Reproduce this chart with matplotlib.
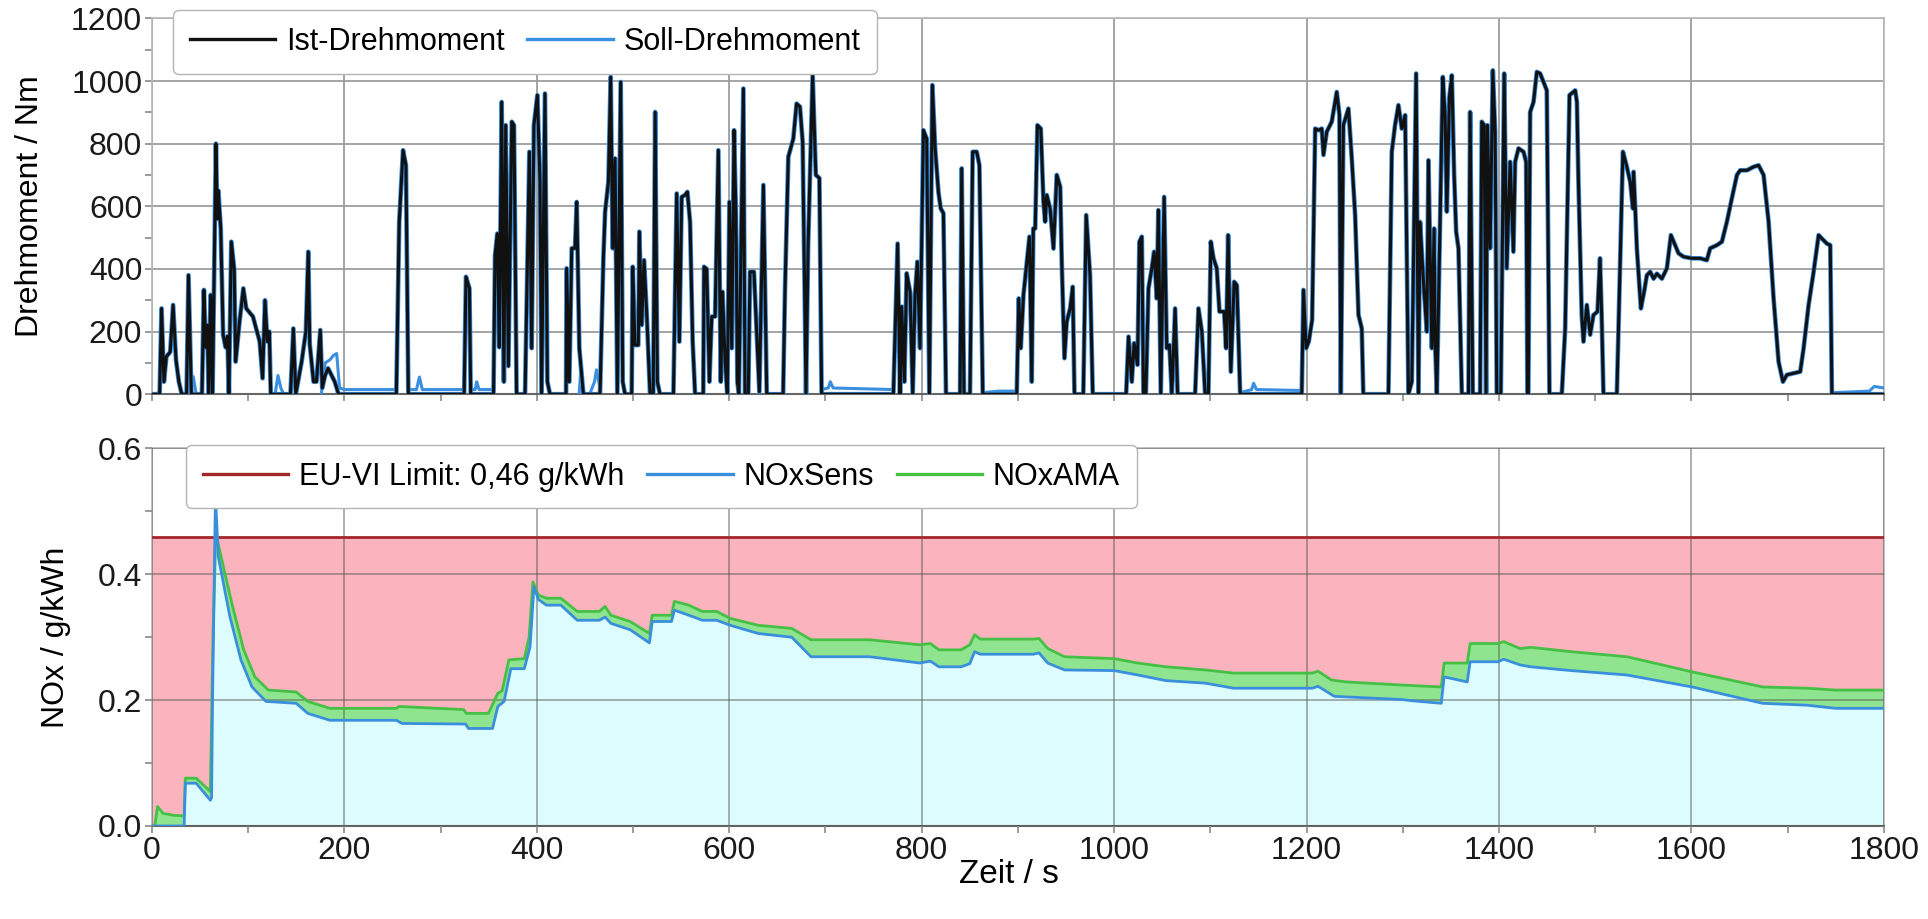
import numpy as np
import matplotlib
matplotlib.use("Agg")
import matplotlib.pyplot as plt
from matplotlib.ticker import MultipleLocator, FormatStrFormatter
from matplotlib.lines import Line2D
from matplotlib import font_manager

plt.rcParams['font.family'] = ['Liberation Sans', 'DejaVu Sans']

# ---------------- data: torque (Nm) ----------------
ist_t = [0, 8, 10, 12.5, 15, 19, 22, 25, 28, 31, 36, 38, 41,
         52, 54, 56, 57.5, 59, 61, 63, 66.5, 68, 69, 71.5, 74, 76.5, 78.5, 80,
         82.5, 85.5, 87, 91, 95, 98, 105, 112, 115, 117.5, 120, 122, 123.5,
         144, 147, 149.5, 155.6, 160, 162.5, 164, 168, 171, 175, 177, 180, 183, 186, 190, 194,
         254, 257, 261, 264, 266.5,
         324.5, 326.4, 330, 331.3,
         355, 356.6, 359, 361, 363.5, 365.8, 367.7, 370.5, 374, 376.3, 379,
         387.8, 392.3, 394.7, 397, 400.6, 403.3, 405, 408.5, 411, 413.7,
         430.4, 431, 433.8, 436.3, 439.7, 441.5, 444.2, 448.4,
         465.7, 469.2, 471, 474.4, 476.8, 478.9, 481.3, 483.7, 487.2, 489.3, 491.7,
         498.6, 499.7, 502, 505.5, 506.6, 509, 511.5, 514.3, 517.7,
         521, 523, 525.3, 528,
         542, 545.4, 548.2, 550.6, 554, 556.5, 559.3, 562, 564.5,
         573, 573.8, 576.6, 579.4, 581.8, 585.3, 588.7, 591.2, 593, 595.7, 598,
         600.2, 602.6, 605, 607, 608.5, 610, 614.7, 616.4, 619.8, 621.6, 625.7, 628.5, 631.3, 635.5, 639,
         656, 658, 661.4, 666.6, 670, 673.5, 676.3, 679.8, 682, 686.7, 690, 693.7, 696,
         770.6, 775, 777.5, 779.2, 782, 784.4, 788, 790.7, 793.1, 795.5, 798.3, 801.8, 805.2, 808,
         811.1, 814, 817.4, 819.8, 822.6, 825.3,
         839.9, 841.6, 844, 850.2, 853, 857.2, 860, 863.5,
         898.8, 900.9, 903, 905.8, 912, 914.4, 916, 918, 920.3, 923.8, 926.6, 928.3, 930, 933.5,
         937, 940.4, 944, 945.6, 948.4, 950.8, 954.3, 957, 958.8,
         968, 971, 975, 977.8,
         1012.5, 1015, 1018.4, 1020.8, 1024.3, 1026.3, 1028.8, 1030.5, 1033, 1035.7, 1039.2, 1041.6,
         1044.3, 1046, 1048.5, 1052, 1054.7, 1057.5, 1060, 1063.4, 1066,
         1084.2, 1087.7, 1091.2, 1094.6, 1098, 1100.5, 1103.3, 1106.7, 1109.5, 1114.3, 1116.4, 1118.5,
         1121.3, 1124.8, 1127.6, 1131,
         1195, 1196.8, 1199.6, 1202.3, 1205.8, 1209, 1212.4, 1215.8, 1217.6, 1221, 1226.2, 1231.4,
         1234.2, 1235.6, 1238.3, 1243.5, 1247, 1250.5, 1254, 1257.4, 1259,
         1285.1, 1288.6, 1292, 1295.5, 1299, 1302.5, 1305.9, 1309.4, 1313.9, 1316.3, 1318, 1321.5,
         1325, 1326.7, 1330.2, 1332.6, 1333.6, 1335.4, 1341.6, 1344, 1345.8, 1348.5, 1351, 1353.4,
         1355.5, 1357.9, 1361.4,
         1368.3, 1370, 1372.8, 1380.4, 1382.1, 1384.6, 1386.6, 1388, 1390.8, 1393.6, 1396, 1397.7,
         1401.9, 1405.4, 1408.1, 1411.6, 1415, 1416.8, 1420.3, 1425.5, 1428.2, 1429.6,
         1430.5, 1432.4, 1435.9, 1439.3, 1442.8, 1446.3, 1449.7, 1452.5,
         1465.3, 1468.8, 1473.3, 1479.2, 1481, 1482.6, 1486, 1487.8, 1491.3, 1494.8, 1498.2, 1502.4,
         1505, 1506.7, 1508.6,
         1522.5, 1528.8, 1532.5, 1536.4, 1539.2, 1539.9, 1541.6, 1543.3, 1547.5, 1550.8, 1553.7, 1557.2,
         1560.7, 1564.1, 1569.3, 1574.5, 1578.7, 1583.1, 1586.6, 1591.8, 1600.5, 1609.1, 1616, 1619.5,
         1626.5, 1631.7, 1636.9, 1642, 1647.3, 1650.7, 1657.7, 1664.6, 1669.8, 1675, 1680.2, 1685.4,
         1690.6, 1695.1, 1699.2, 1706.2, 1713.1, 1716.6, 1721.8, 1727, 1732.2, 1735.6, 1740.8, 1744.3,
         1746, 1800]
ist_nm = [0, 0, 274, 40, 120, 135, 285, 110, 40, 0, 0, 380, 0,
          0, 333, 150, 220, 0, 317, 0, 800, 560, 650, 530, 190, 150, 185, 0,
          487, 400, 104, 230, 338, 274, 248, 168, 51, 300, 168, 200, 0,
          0, 210, 0, 104, 200, 455, 160, 40, 40, 205, 20, 60, 83, 65, 40, 0,
          0, 550, 779, 731, 0,
          0, 375, 338, 0,
          0, 444, 513, 150, 933, 40, 859, 90, 870, 859, 0,
          0, 774, 147, 859, 955, 680, 0, 960, 40, 0,
          0, 402, 40, 466, 466, 614, 147, 0,
          0, 434, 583, 678, 1013, 466, 753, 0, 997, 40, 0,
          0, 407, 157, 157, 519, 221, 428, 253, 0,
          0, 901, 40, 0,
          0, 641, 168, 630, 636, 646, 550, 168, 0,
          0, 407, 400, 40, 248, 248, 779, 40, 327, 104, 0,
          614, 147, 843, 570, 40, 0, 976, 0, 0, 391, 391, 200, 8, 668, 0,
          0, 338, 758, 816, 928, 918, 806, 0, 477, 1018, 700, 690, 0,
          0, 481, 0, 280, 40, 386, 327, 0, 317, 423, 147, 843, 816, 0,
          987, 785, 646, 593, 578, 0,
          0, 721, 0, 0, 774, 774, 731, 0,
          0, 306, 147, 317, 503, 40, 529, 529, 859, 848, 614, 551, 636, 593,
          465, 700, 662, 422, 115, 232, 274, 343, 0,
          0, 572, 380, 0,
          0, 184, 40, 163, 94, 487, 503, 0, 0, 338, 402, 455,
          306, 588, 0, 630, 147, 157, 0, 274, 0,
          0, 274, 200, 0, 0, 487, 434, 402, 264, 264, 147, 508,
          72, 359, 348, 0,
          0, 333, 147, 168, 237, 848, 843, 848, 764, 838, 870, 965,
          891, 0, 859, 912, 753, 572, 253, 210, 0,
          0, 774, 859, 923, 848, 891, 0, 40, 1024, 0, 550, 359,
          200, 747, 147, 529, 168, 0, 1013, 891, 583, 950, 1018, 700,
          519, 466, 0,
          0, 901, 0, 0, 870, 859, 0, 859, 466, 1034, 838, 0,
          0, 1024, 402, 742, 455, 742, 785, 774, 742, 0,
          0, 901, 933, 1029, 1024, 997, 970, 0,
          0, 210, 955, 970, 933, 678, 253, 168, 285, 190, 253, 264,
          434, 253, 0,
          0, 774, 731, 678, 593, 710, 593, 466, 274, 327, 380, 391,
          369, 385, 369, 402, 508, 476, 450, 439, 434, 434, 428, 466,
          476, 487, 551, 625, 700, 715, 715, 726, 731, 700, 551, 306,
          104, 40, 62, 67, 72, 147, 285, 391, 508, 497, 481, 476,
          0, 0]

# Soll-Drehmoment where it differs from the actual torque (idle demand);
# NaN separates the segments
soll_t = [0, 8, np.nan,
          40, 43, 46, np.nan,
          128, 131, 134, 137, np.nan,
          176, 180, 185, 189, 192, 195, 200, 254, np.nan,
          266.5, 275, 278, 281, 324.5, np.nan,
          331.3, 336, 337.5, 340, 355, np.nan,
          444, 446, 448.4, 455, 460, 462, 465.7, np.nan,
          696, 703, 705, 708, 770.6, np.nan,
          863.5, 880, 898.8, np.nan,
          1131, 1143, 1145, 1148, 1195, np.nan,
          1746, 1785, 1790, 1800]
soll_nm = [0, 5, np.nan,
           0, 56, 0, np.nan,
           0, 60, 20, 0, np.nan,
           0, 100, 110, 125, 130, 20, 15, 15, np.nan,
           15, 15, 55, 15, 15, np.nan,
           15, 15, 40, 15, 15, np.nan,
           0, 90, 0, 0, 40, 78, 20, np.nan,
           15, 20, 40, 20, 15, np.nan,
           5, 10, 10, np.nan,
           5, 15, 35, 15, 12, np.nan,
           5, 10, 25, 20]

# ---------------- data: NOx (g/kWh) ----------------
limit_nox = 0.46

ama_t = [0, 3, 5.8, 11.6, 23, 33.5, 34.7, 46, 60.7, 63.6, 66.5, 75, 83.8, 95.4, 107, 121, 150, 162,
         185, 254, 257, 324, 326.6, 349.7, 359.5, 364, 371, 387, 392, 396, 401.7, 410, 425, 442, 465,
         471, 477, 497, 517, 520, 540, 543, 558, 572, 587, 601, 630, 665, 685, 746, 798, 809, 818,
         841, 850, 855, 861, 916, 922, 931, 948.5, 1000, 1024.6, 1054, 1095, 1124, 1206, 1212, 1226,
         1241, 1299, 1340, 1343, 1367, 1370, 1399, 1405, 1422, 1433, 1475, 1533, 1600.6, 1674, 1720,
         1750, 1800]
ama_val = [0, 0, 0.031, 0.020, 0.017, 0.016, 0.076, 0.076, 0.055, 0.31, 0.465, 0.407, 0.349, 0.28,
           0.237, 0.216, 0.213, 0.198, 0.187, 0.187, 0.19, 0.185, 0.179, 0.179, 0.211, 0.215, 0.264,
           0.266, 0.30, 0.388, 0.367, 0.362, 0.362, 0.341, 0.341, 0.349, 0.335, 0.325, 0.306, 0.335,
           0.335, 0.357, 0.351, 0.341, 0.341, 0.33, 0.319, 0.314, 0.296, 0.296, 0.288, 0.29, 0.28,
           0.28, 0.288, 0.304, 0.297, 0.297, 0.298, 0.282, 0.269, 0.266, 0.259, 0.253, 0.248, 0.243,
           0.243, 0.246, 0.232, 0.229, 0.224, 0.221, 0.259, 0.259, 0.29, 0.29, 0.293, 0.282, 0.284,
           0.277, 0.269, 0.245, 0.221, 0.219, 0.216, 0.216]

sens_t = [0, 33.5, 34.7, 46, 60.7, 62, 63, 66, 69, 81, 92.5, 104, 118.5, 150, 162, 185, 254, 260,
          326, 329, 354, 359.5, 366, 373, 387, 393, 397, 401.7, 410, 425, 442, 465, 471, 477, 497,
          517, 520, 540, 543, 558, 572, 587, 601, 630, 665, 685, 746, 798, 809, 818, 841, 850, 855,
          861, 916, 922, 931, 948.5, 1000, 1024.6, 1054, 1095, 1124, 1206, 1212, 1229, 1299, 1310,
          1340, 1343, 1367, 1370, 1399, 1405, 1422, 1433, 1475, 1533, 1600.6, 1674, 1720, 1750, 1800]
sens_val = [0, 0, 0.068, 0.068, 0.041, 0.045, 0.2, 0.526, 0.428, 0.333, 0.264, 0.221, 0.198, 0.195,
            0.179, 0.168, 0.168, 0.163, 0.162, 0.155, 0.155, 0.19, 0.198, 0.25, 0.25, 0.285, 0.38,
            0.36, 0.351, 0.351, 0.327, 0.327, 0.332, 0.322, 0.312, 0.291, 0.325, 0.325, 0.343, 0.335,
            0.327, 0.327, 0.319, 0.306, 0.30, 0.269, 0.269, 0.259, 0.262, 0.253, 0.253, 0.258, 0.277,
            0.273, 0.273, 0.275, 0.259, 0.248, 0.247, 0.24, 0.231, 0.227, 0.219, 0.219, 0.222, 0.206,
            0.201, 0.199, 0.195, 0.237, 0.229, 0.261, 0.261, 0.265, 0.256, 0.253, 0.247, 0.24, 0.221,
            0.195, 0.192, 0.187, 0.187]

# ---------------- styling ----------------
C_IST = '#111111'
C_SOLL = '#3b8fe0'
C_LIMIT = '#a3262b'
C_SENS = '#3a8fdc'
C_AMA = '#45c045'
C_PINK = '#fbb3be'
C_CYAN = '#dcfcfd'
C_GREENFILL = '#8fe48f'

installed = {f.name for f in font_manager.fontManager.ttflist}
NARROW = ['Liberation Sans Narrow', 'Liberation Sans'] if 'Liberation Sans Narrow' in installed \
    else ['Liberation Sans']

TICK_FS = 23
LABEL_FS = 23
XLABEL_FS = 24
LEG_FS = 22

fig = plt.figure(figsize=(19.28, 9.19), dpi=100)
ax1 = fig.add_axes([0.0788, 0.571, 0.8983, 0.409])
ax2 = fig.add_axes([0.0788, 0.1012, 0.8983, 0.4108])

# ---- top: torque ----
ax1.plot(ist_t, ist_nm, color=C_SOLL, lw=3.4, zorder=3)
ax1.plot(soll_t, soll_nm, color=C_SOLL, lw=2.2, zorder=3)
ax1.plot(ist_t, ist_nm, color=C_IST, lw=2.2, zorder=4)
ax1.set_xlim(0, 1800)
ax1.set_ylim(0, 1200)
ax1.yaxis.set_major_locator(MultipleLocator(200))
ax1.yaxis.set_minor_locator(MultipleLocator(100))
ax1.xaxis.set_major_locator(MultipleLocator(200))
ax1.xaxis.set_minor_locator(MultipleLocator(100))
ax1.grid(which='major', color='#9d9d9d', lw=1.3)
ax1.set_axisbelow(True)
ax1.tick_params(axis='x', which='both', labelbottom=False)
ax1.set_ylabel('Drehmoment / Nm', fontsize=LABEL_FS)
ax1.yaxis.set_label_coords(-0.062, 0.5)

h_ist = Line2D([], [], color=C_IST, lw=2.4)
h_soll = Line2D([], [], color=C_SOLL, lw=2.4)
leg1 = ax1.legend([h_ist, h_soll], ['Ist-Drehmoment', 'Soll-Drehmoment'], ncol=2,
                  loc='upper left', bbox_to_anchor=(0.012, 1.022), fontsize=LEG_FS,
                  frameon=True, fancybox=True, edgecolor='#b5b5b5', framealpha=1,
                  handlelength=2.8, handletextpad=0.35, columnspacing=0.75,
                  borderpad=0.55, borderaxespad=0)
leg1.set_zorder(10)

# ---- bottom: NOx ----
ax2.fill_between(ama_t, ama_val, limit_nox, color=C_PINK, lw=0, zorder=1)
ax2.fill_between(ama_t, 0, ama_val, color=C_GREENFILL, lw=0, zorder=1.1)
ax2.fill_between(sens_t, 0, sens_val, color=C_CYAN, lw=0, zorder=1.2)
ax2.axhline(limit_nox, color=C_LIMIT, lw=2.0, zorder=4)
ax2.plot(ama_t, ama_val, color=C_AMA, lw=2.0, zorder=5)
ax2.plot(sens_t, sens_val, color=C_SENS, lw=2.0, zorder=6)
ax2.set_xlim(0, 1800)
ax2.set_ylim(0, 0.6)
ax2.yaxis.set_major_locator(MultipleLocator(0.2))
ax2.yaxis.set_minor_locator(MultipleLocator(0.1))
ax2.yaxis.set_major_formatter(FormatStrFormatter('%.1f'))
ax2.xaxis.set_major_locator(MultipleLocator(200))
ax2.xaxis.set_minor_locator(MultipleLocator(100))
ax2.grid(which='major', color='#555555', alpha=0.5, lw=1.3)
ax2.set_axisbelow(False)
ax2.set_ylabel('NOx / g/kWh', fontsize=LABEL_FS)
ax2.yaxis.set_label_coords(-0.047, 0.5)
ax2.set_xlabel('Zeit / s', fontsize=XLABEL_FS)
ax2.xaxis.set_label_coords(0.495, -0.088)
ax2.xaxis.label.set_va('top')

h_lim = Line2D([], [], color=C_LIMIT, lw=2.4)
h_sens = Line2D([], [], color=C_SENS, lw=2.4)
h_ama = Line2D([], [], color=C_AMA, lw=2.4)
leg2 = ax2.legend([h_lim, h_sens, h_ama], ['EU-VI Limit: 0,46 g/kWh', 'NOxSens', 'NOxAMA'], ncol=3,
                  loc='upper left', bbox_to_anchor=(0.0195, 1.01), fontsize=LEG_FS,
                  frameon=True, fancybox=True, edgecolor='#b5b5b5', framealpha=1,
                  handlelength=2.8, handletextpad=0.35, columnspacing=0.75,
                  borderpad=0.55, borderaxespad=0)
leg2.set_zorder(10)

for ax in (ax1, ax2):
    ax.tick_params(which='both', direction='out', color='#8a8a8a', labelsize=TICK_FS,
                   labelcolor='#1a1a1a', width=1.2)
    ax.tick_params(which='major', length=5, pad=2)
    ax.tick_params(which='minor', length=5)
    for lab in ax.get_xticklabels() + ax.get_yticklabels():
        lab.set_family(NARROW)
    for side in ('top', 'right', 'left'):
        ax.spines[side].set_color('#b8b8b8')
        ax.spines[side].set_linewidth(1.2)
    ax.spines['bottom'].set_color('#666666')
    ax.spines['bottom'].set_linewidth(1.5)

fig.savefig('out.png', dpi=100, facecolor='white')
